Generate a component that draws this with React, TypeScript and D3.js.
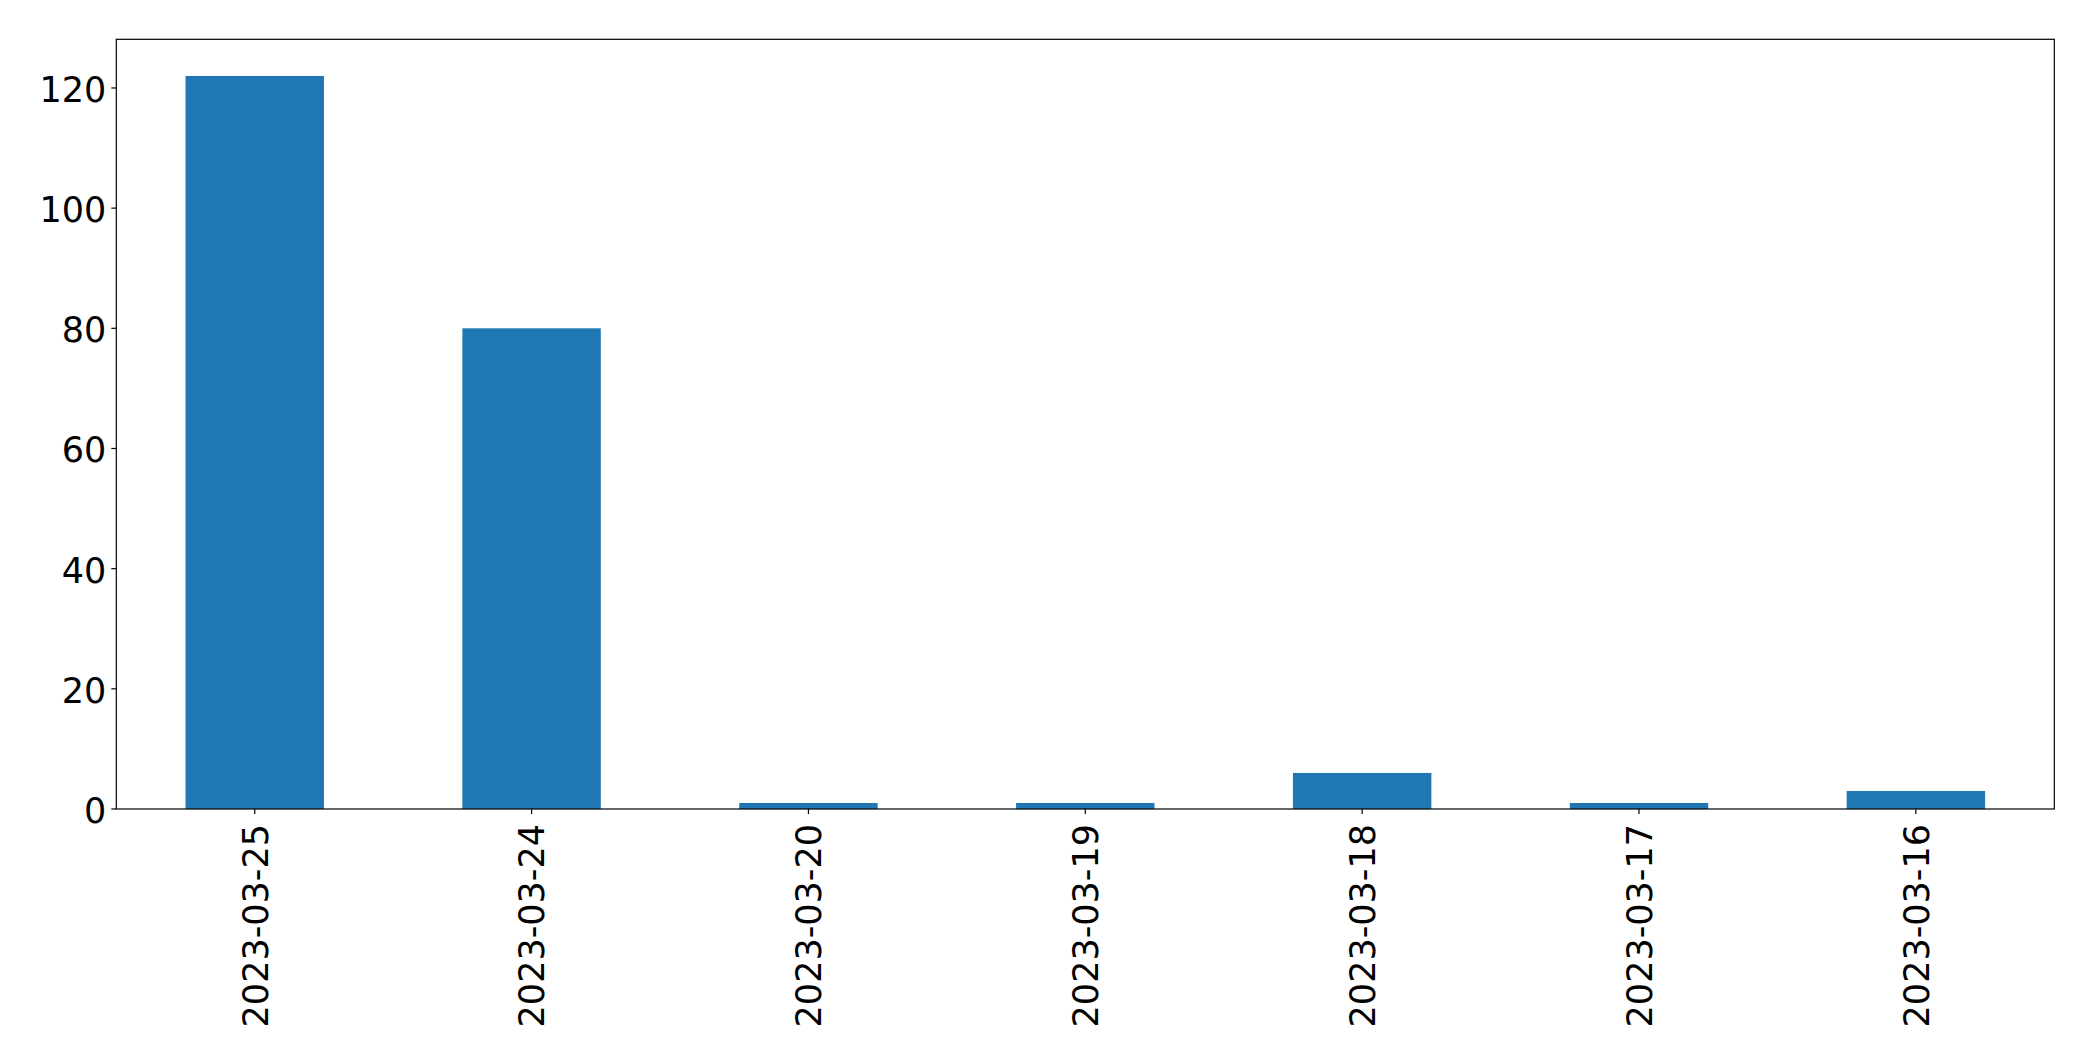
import React from "react";
import * as d3 from "d3";

const categories = ["2023-03-25", "2023-03-24", "2023-03-20", "2023-03-19", "2023-03-18", "2023-03-17", "2023-03-16"];
const values = [122, 80, 1, 1, 6, 1, 3];
const yTicks = [0, 20, 40, 60, 80, 100, 120];

export default function App() {
  const W = 2093, H = 1061;
  const left = 116.3, right = 2054.3, top = 39.3, bottom = 809;
  const fs = 35;
  const font = "DejaVu Sans, sans-serif";
  const x = d3.scaleBand<string>().domain(categories).range([left, right]).paddingInner(0.5).paddingOuter(0.25);
  const yMax = d3.max(values)! * 1.05;
  const y = d3.scaleLinear().domain([0, yMax]).range([bottom, top]);
  const tickLen = 5;
  return (
    <svg width={W} height={H} style={{ position: "fixed", left: 0, top: 0, background: "#fff" }}>
      <rect x={0} y={0} width={W} height={H} fill="#fff" />
      {values.map((v, i) => (
        <rect key={i} x={x(categories[i])!} y={y(v)} width={x.bandwidth()} height={bottom - y(v)} fill="#1f77b4" />
      ))}
      <rect x={left} y={top} width={right - left} height={bottom - top} fill="none" stroke="#000" strokeWidth={1.2} />
      {yTicks.map((t) => (
        <g key={t}>
          <line x1={left - tickLen} x2={left} y1={y(t)} y2={y(t)} stroke="#000" strokeWidth={1.2} />
          <text x={left - tickLen - 5} y={y(t) + 14} textAnchor="end" fontSize={fs} fontFamily={font} fill="#000">{t}</text>
        </g>
      ))}
      {categories.map((c) => {
        const cx = x(c)! + x.bandwidth() / 2;
        return (
          <g key={c}>
            <line x1={cx} x2={cx} y1={bottom} y2={bottom + tickLen} stroke="#000" strokeWidth={1.2} />
            <text transform={`translate(${cx + 12.8},${bottom + tickLen + 10}) rotate(-90)`} textAnchor="end" fontSize={fs} fontFamily={font} fill="#000">{c}</text>
          </g>
        );
      })}
    </svg>
  );
}
